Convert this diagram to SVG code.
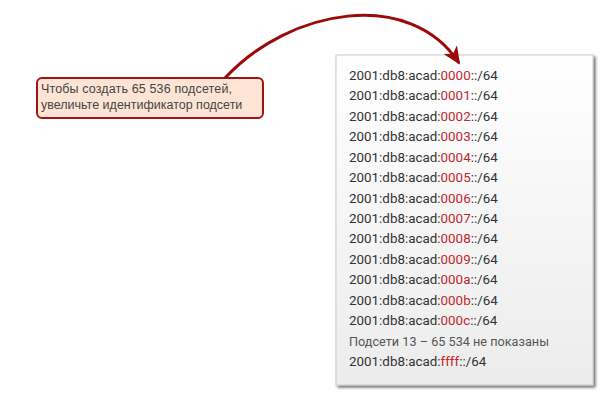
<svg xmlns="http://www.w3.org/2000/svg" width="611" height="398" viewBox="0 0 611 398">
  <style>
    .addr { font-family: Roboto, "Liberation Sans", sans-serif; font-size: 13.4px; fill: #333333; }
    .hex { fill: #c0282d; }
    .note { font-family: "Liberation Sans", Arial, sans-serif; font-size: 12.5px; fill: #444444; }
    .muted { fill: #555555; }
  </style>
  <defs>
    <linearGradient id="panelFill" x1="0" y1="0" x2="0" y2="1">
      <stop offset="0" stop-color="#ffffff"/>
      <stop offset="1" stop-color="#ececec"/>
    </linearGradient>
    <filter id="panelShadow" x="-5%" y="-5%" width="115%" height="115%">
      <feGaussianBlur in="SourceAlpha" stdDeviation="1.5"/>
      <feOffset dx="2" dy="2" result="b"/>
      <feComponentTransfer><feFuncA type="linear" slope="0.6"/></feComponentTransfer>
      <feMerge><feMergeNode/><feMergeNode in="SourceGraphic"/></feMerge>
    </filter>
    <marker id="arrowHead" viewBox="0 0 18 16" refX="16" refY="8" markerWidth="18" markerHeight="16" orient="auto" markerUnits="userSpaceOnUse">
      <path d="M0,0 L18,8 L0,16 L5,8 Z" fill="#9b0a0a"/>
    </marker>
  </defs>

  <g id="callout">
    <rect x="37" y="78" width="226" height="40" rx="5" fill="#fde4d4" stroke="#9b1515" stroke-width="2"/>
    <text class="note" x="41" y="93" textLength="191">Чтобы создать 65 536 подсетей,</text>
    <text class="note" x="41" y="108.5">увеличьте идентификатор подсети</text>
  </g>

  <g id="subnet-list">
    <rect x="336" y="55" width="257" height="330" fill="url(#panelFill)" stroke="#cccccc" stroke-width="1" filter="url(#panelShadow)"/>
    <text class="addr" x="349" y="80">2001:db8:acad:<tspan class="hex">0000</tspan>::/64</text>
    <text class="addr" x="349" y="100.4">2001:db8:acad:<tspan class="hex">0001</tspan>::/64</text>
    <text class="addr" x="349" y="120.9">2001:db8:acad:<tspan class="hex">0002</tspan>::/64</text>
    <text class="addr" x="349" y="141.3">2001:db8:acad:<tspan class="hex">0003</tspan>::/64</text>
    <text class="addr" x="349" y="161.7">2001:db8:acad:<tspan class="hex">0004</tspan>::/64</text>
    <text class="addr" x="349" y="182.1">2001:db8:acad:<tspan class="hex">0005</tspan>::/64</text>
    <text class="addr" x="349" y="202.6">2001:db8:acad:<tspan class="hex">0006</tspan>::/64</text>
    <text class="addr" x="349" y="223">2001:db8:acad:<tspan class="hex">0007</tspan>::/64</text>
    <text class="addr" x="349" y="243.4">2001:db8:acad:<tspan class="hex">0008</tspan>::/64</text>
    <text class="addr" x="349" y="263.9">2001:db8:acad:<tspan class="hex">0009</tspan>::/64</text>
    <text class="addr" x="349" y="284.3">2001:db8:acad:<tspan class="hex">000a</tspan>::/64</text>
    <text class="addr" x="349" y="304.7">2001:db8:acad:<tspan class="hex">000b</tspan>::/64</text>
    <text class="addr" x="349" y="325.1">2001:db8:acad:<tspan class="hex">000c</tspan>::/64</text>
    <text class="addr muted" x="349" y="345.6" textLength="200" lengthAdjust="spacingAndGlyphs">Подсети 13 – 65 534 не показаны</text>
    <text class="addr" x="349" y="366">2001:db8:acad:<tspan class="hex">ffff</tspan>::/64</text>
  </g>

  <!-- curved pointer from the note to the first subnet -->
  <g id="connectors">
    <path d="M225,78 C290,8 410,-12 459,63" fill="none" stroke="#9b0a0a" stroke-width="3" marker-end="url(#arrowHead)"/>
  </g>
</svg>
